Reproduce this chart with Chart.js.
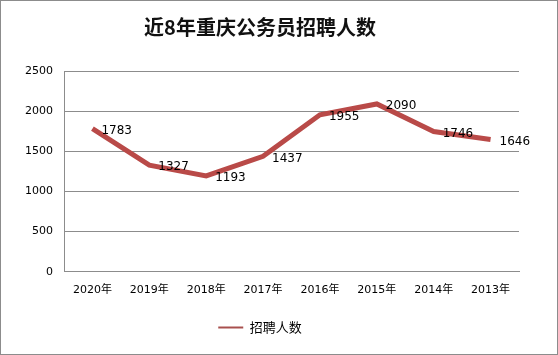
<!DOCTYPE html>
<html>
<head>
<meta charset="utf-8">
<script src="https://cdn.jsdelivr.net/npm/chart.js@4/dist/chart.umd.min.js"></script>
<style>
    html, body { margin: 0; padding: 0; background: #fff; }
    #wrap { width: 556px; height: 353px; border: 1px solid #8c8c8c; position: relative; }
</style>
</head>
<body>
<div id="wrap"><canvas id="lineChart"></canvas></div>
<script>
const years = ['2020年', '2019年', '2018年', '2017年', '2016年', '2015年', '2014年', '2013年'];
const hires = [1783, 1327, 1193, 1437, 1955, 2090, 1746, 1646];
const yTicks = [0, 500, 1000, 1500, 2000, 2500];

const fontStack = '"DejaVu Sans", "Noto Sans CJK SC", sans-serif';

// value labels to the right of each point, like Excel's "right" position
const valueLabels = {
    id: 'valueLabels',
    afterDatasetsDraw(chart) {
        const ctx = chart.ctx;
        const meta = chart.getDatasetMeta(0);
        ctx.save();
        ctx.font = '12px ' + fontStack;
        ctx.fillStyle = '#000';
        ctx.textAlign = 'left';
        ctx.textBaseline = 'middle';
        meta.data.forEach((pt, i) => {
            ctx.fillText(String(hires[i]), pt.x + 9, pt.y + 2);
        });
        ctx.restore();
    }
};

const ctx = document.getElementById('lineChart').getContext('2d');
new Chart(ctx, {
    type: 'line',
    data: {
        labels: years,
        datasets: [{
            label: '招聘人数',
            data: hires,
            borderColor: '#b94a48',
            backgroundColor: '#b94a48',
            borderWidth: 5,
            pointRadius: 0,
            tension: 0
        }]
    },
    options: {
        responsive: true,
        maintainAspectRatio: false,
        animation: false,
        layout: { padding: { left: 0, right: 38, top: 10, bottom: 10 } },
        plugins: {
            title: {
                display: true,
                text: '近8年重庆公务员招聘人数',
                color: '#111',
                font: { family: '"Noto Sans CJK SC", sans-serif', size: 20, weight: 'bold' },
                padding: { top: 4, bottom: 32 }
            },
            legend: {
                position: 'bottom',
                labels: {
                    color: '#000',
                    font: { family: '"Noto Sans CJK SC", sans-serif', size: 13 },
                    boxWidth: 25,
                    boxHeight: 2,
                    padding: 12,
                    generateLabels(chart) {
                        const items = Chart.defaults.plugins.legend.labels.generateLabels(chart);
                        items.forEach(it => {
                            it.lineWidth = 0;
                            it.fillStyle = '#a8504e';
                            it.strokeStyle = '#a8504e';
                        });
                        return items;
                    }
                }
            },
            tooltip: { enabled: false }
        },
        scales: {
            x: {
                offset: true,
                grid: { display: false, drawTicks: false },
                border: { color: '#8c8c8c' },
                ticks: { color: '#000', font: { family: fontStack, size: 11 }, padding: 12, maxRotation: 0 }
            },
            y: {
                min: 0,
                max: 2500,
                afterFit(scale) { scale.width = 63; },
                afterBuildTicks(scale) { scale.ticks = yTicks.map(v => ({ value: v })); },
                grid: { color: '#8c8c8c', drawTicks: false },
                border: { color: '#8c8c8c' },
                ticks: {
                    color: '#000',
                    font: { family: fontStack, size: 11 },
                    padding: 11,
                    callback: v => String(v)
                }
            }
        }
    },
    plugins: [valueLabels]
});
</script>
</body>
</html>
